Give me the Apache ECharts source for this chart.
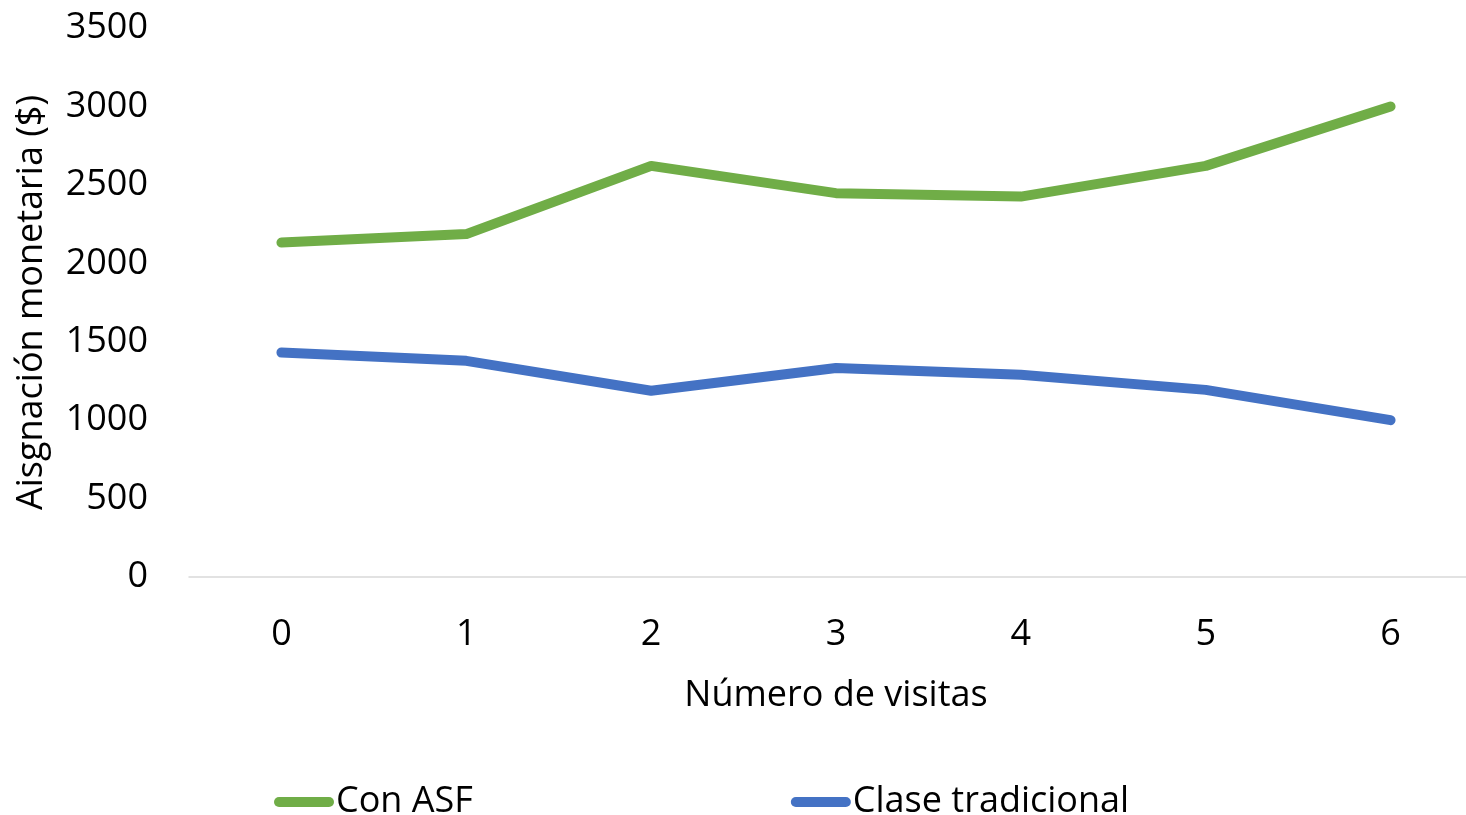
<!DOCTYPE html>
<html>
<head>
<meta charset="utf-8">
<script src="https://cdn.jsdelivr.net/npm/echarts@6/dist/echarts.min.js"></script>
<style>html,body{margin:0;padding:0;background:#fff;}#c{width:1466px;height:815px;}</style>
</head>
<body>
<div id="c"></div>
<script>
const categories = ['0', '1', '2', '3', '4', '5', '6'];
const conASF = [2132, 2186, 2621, 2447, 2425, 2621, 3000];
const claseTradicional = [1431, 1378, 1187, 1332, 1289, 1193, 1000];
const seriesNames = ['Con ASF', 'Clase tradicional'];
const xAxisTitle = 'Número de visitas';
const yAxisTitle = 'Aisgnación monetaria ($)';

const FONT = '"Open Sans", "Noto Sans", sans-serif';
const chart = echarts.init(document.getElementById('c'), null, {renderer: 'canvas'});
const pill = 'path://M5,0 L55,0 A5,5 0 0 1 55,10 L5,10 A5,5 0 0 1 5,0 Z';
chart.setOption({
  animation: false,
  backgroundColor: '#ffffff',
  grid: {left: 189, top: 28, bottom: 238, width: 1294, outerBoundsMode: 'none'},
  legend: {
    left: 269, top: 779,
    itemWidth: 60, itemHeight: 10, itemGap: 318,
    textStyle: {fontFamily: FONT, fontSize: 36, color: '#000', padding: [0,0,0,-3]},
    data: [{name: seriesNames[0], icon: pill}, {name: seriesNames[1], icon: pill}]
  },
  xAxis: {
    type: 'category',
    data: categories,
    boundaryGap: true,
    axisLine: {show: true, lineStyle: {color: '#d9d9d9', width: 1.5}},
    axisTick: {show: false},
    axisLabel: {fontFamily: FONT, fontSize: 36, color: '#000', margin: 40},
    name: xAxisTitle,
    nameLocation: 'middle',
    nameGap: 101,
    nameTextStyle: {fontFamily: FONT, fontSize: 36, color: '#000'}
  },
  yAxis: {
    type: 'value',
    min: 0, max: 3500, interval: 500,
    axisLine: {show: false},
    axisTick: {show: false},
    splitLine: {show: false},
    axisLabel: {fontFamily: FONT, fontSize: 36, color: '#000', margin: 41,
      padding: [5, 0, 0, 0],
      formatter: function (v) { return String(v); }},
    name: yAxisTitle,
    nameLocation: 'middle',
    nameGap: 139,
    nameTextStyle: {fontFamily: FONT, fontSize: 36, color: '#000'}
  },
  series: [
    {
      name: seriesNames[0], type: 'line', data: conASF,
      showSymbol: false, symbol: 'none',
      lineStyle: {color: '#70AD47', width: 10, cap: 'round', join: 'round'},
      itemStyle: {color: '#70AD47'}
    },
    {
      name: seriesNames[1], type: 'line', data: claseTradicional,
      showSymbol: false, symbol: 'none',
      lineStyle: {color: '#4472C4', width: 10, cap: 'round', join: 'round'},
      itemStyle: {color: '#4472C4'}
    }
  ]
});
</script>
</body>
</html>
